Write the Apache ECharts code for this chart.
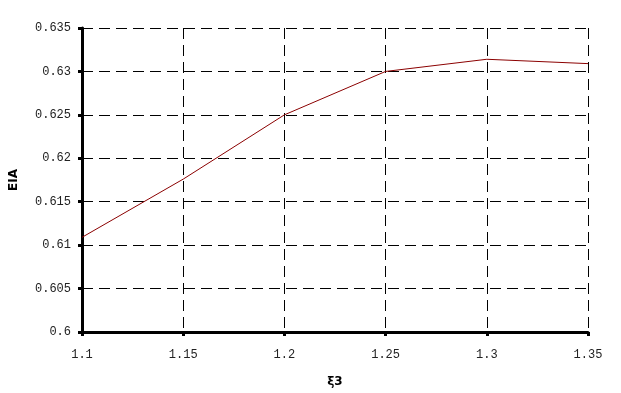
<!DOCTYPE html>
<html><head><meta charset="utf-8">
<script src="https://cdn.jsdelivr.net/npm/echarts@6/dist/echarts.min.js"></script>
<style>html,body{margin:0;padding:0;background:#fff}#c{width:621px;height:393px}</style>
</head><body><div id="c"></div>
<script>
const xValues = [1.1, 1.15, 1.2, 1.25, 1.3, 1.35];
const yValues = [0.6109, 0.6176, 0.6250, 0.6300, 0.6314, 0.6309];
const xName = 'ξ3';
const yName = 'ΕΙΑ';
const chart = echarts.init(document.getElementById('c'));
const lab = {color:'#222', fontFamily:'Liberation Mono', fontSize:12};
chart.setOption({
  animation:false,
  grid:{left:82, right:33, top:28, bottom:61, containLabel:false, outerBoundsMode:'none'},
  xAxis:{type:'value', min:1.1, max:1.35, interval:0.05,
    name:xName, nameLocation:'middle', nameGap:44,
    nameTextStyle:{color:'#000', fontFamily:'DejaVu Sans', fontSize:12, fontWeight:'bold'},
    axisLine:{show:true, onZero:false, lineStyle:{color:'#000', width:3}},
    axisTick:{show:true, length:4, lineStyle:{color:'#000', width:3}},
    axisLabel:Object.assign({margin:17, formatter:v=>String(+v.toFixed(2))}, lab),
    splitLine:{show:true, lineStyle:{color:'#000', width:1, type:[11,6]}}
  },
  yAxis:{type:'value', min:0.6, max:0.635, interval:0.005,
    name:yName, nameLocation:'middle', nameGap:62, nameRotate:90,
    nameTextStyle:{color:'#000', fontFamily:'DejaVu Sans', fontSize:12, fontWeight:'bold'},
    axisLine:{show:true, onZero:false, lineStyle:{color:'#000', width:3}},
    axisTick:{show:true, length:4, lineStyle:{color:'#000', width:3}},
    axisLabel:Object.assign({margin:11, formatter:v=>String(+v.toFixed(3))}, lab),
    splitLine:{show:true, lineStyle:{color:'#000', width:1, type:[11,6]}}
  },
  series:[{type:'line', data:xValues.map((x,i)=>[x,yValues[i]]), showSymbol:false,
    lineStyle:{color:'#8b0000', width:1}}]
});
</script></body></html>
